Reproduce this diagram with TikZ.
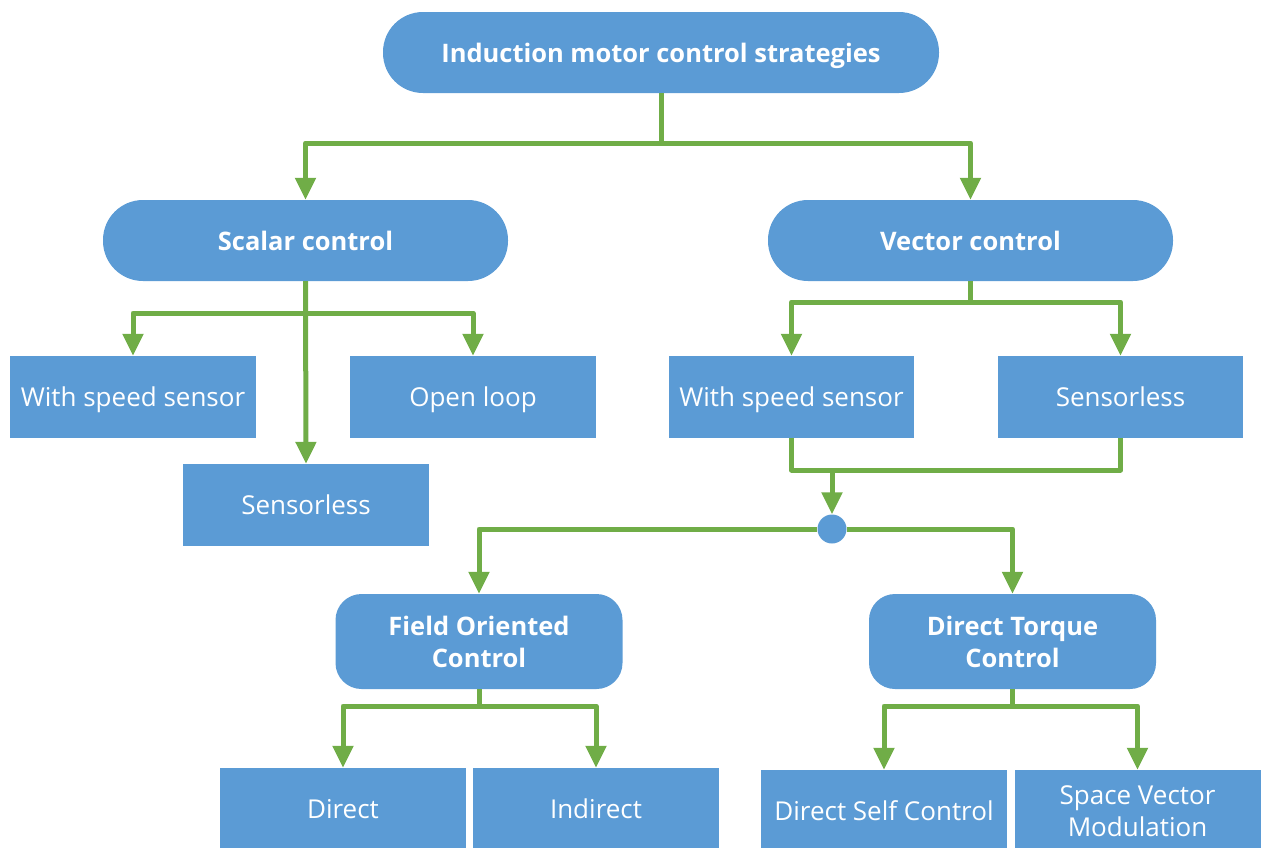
\documentclass[tikz,border=0pt]{standalone}
\usepackage{fontspec}
\setmainfont{Open Sans}
\usetikzlibrary{arrows.meta}
\definecolor{boxblue}{HTML}{5B9BD5}
\definecolor{linkgreen}{HTML}{70AD47}
\tikzset{
  pill/.style={draw=none, fill=boxblue, text=white, rectangle, rounded corners=40pt,
    minimum width=#1, minimum height=81pt, inner sep=0pt,
    text height=25pt, text depth=6pt,
    font=\fontsize{25.5}{30}\selectfont\bfseries},
  roundbox/.style={draw=none, fill=boxblue, text=white, rectangle, rounded corners=26pt,
    minimum width=287pt, minimum height=95pt, inner sep=0pt, align=center,
    font=\fontsize{25.5}{32}\selectfont\bfseries},
  leaf/.style={draw=none, fill=boxblue, text=white, rectangle,
    minimum width=246pt, minimum height=82pt, inner sep=0pt, align=center,
    font=\fontsize{26}{32}\selectfont},
  oneline/.style={text height=24pt, text depth=6pt},
  link/.style={draw=linkgreen, line width=5pt, line join=round},
  arr/.style={link, -{Triangle[length=22pt,width=20pt]}},
}
\begin{document}
\begin{tikzpicture}[x=1pt, y=-1pt]
\useasboundingbox (0,0) rectangle (1261,847);
\begin{scope}
\clip (0,0) rectangle (1261,847);

% top level
\node[pill=556pt] (top) at (661,52.5) {Induction motor control strategies};

% second level
\node[pill=405pt] (scalar) at (305.5,240.5) {Scalar control};
\node[pill=405pt] (vector) at (970.5,240.5) {Vector control};

% scalar control branches
\node[leaf, oneline] (sws) at (133,397) {With speed sensor};
\node[leaf, oneline] (sol) at (473,397) {Open loop};
\node[leaf, oneline] (ssl) at (306,505) {Sensorless};

% vector control branches
\node[leaf, oneline, minimum width=245pt] (vws) at (791.5,397) {With speed sensor};
\node[leaf, oneline, minimum width=245pt] (vsl) at (1120.5,397) {Sensorless};

% merge point
\node[circle, fill=boxblue, minimum size=29pt, inner sep=0pt] (dot) at (832,529) {};

% vector control methods
\node[roundbox] (foc) at (479,641.5) {Field Oriented\\Control};
\node[roundbox] (dtc) at (1012.5,641.5) {Direct Torque\\Control};

% leaves of FOC and DTC
\node[leaf, oneline] (dir) at (343,809) {Direct};
\node[leaf, oneline] (ind) at (596,809) {Indirect};
\node[leaf, oneline] (dsc) at (884,811) {Direct Self Control};
\node[leaf] (svm) at (1137.5,811) {Space Vector\\Modulation};

% connectors
\coordinate (j1) at (661,143);
\draw[link] (top.south) -- (j1);
\draw[arr] (j1) -| (scalar.north);
\draw[arr] (j1) -| (vector.north);

\coordinate (j2) at (305.5,313);
\draw[arr] (scalar.south) -- (ssl.north);
\draw[arr] (j2) -| (sws.north);
\draw[arr] (j2) -| (sol.north);

\coordinate (j3) at (970.5,302);
\draw[link] (vector.south) -- (j3);
\draw[arr] (j3) -| (vws.north);
\draw[arr] (j3) -| (vsl.north);

\coordinate (mrg) at (832,470);
\draw[link] (vws.south) |- (mrg) -| (vsl.south);
\draw[arr] (mrg) -- (dot.north);

\draw[arr] (dot.west) -| (foc.north);
\draw[arr] (dot.east) -| (dtc.north);

\coordinate (j4) at (479,706);
\draw[link] (foc.south) -- (j4);
\draw[arr] (j4) -| (dir.north);
\draw[arr] (j4) -| (ind.north);

\coordinate (j5) at (1012.5,706);
\draw[link] (dtc.south) -- (j5);
\draw[arr] (j5) -| (dsc.north);
\draw[arr] (j5) -| (svm.north);
\end{scope}
\end{tikzpicture}
\end{document}
